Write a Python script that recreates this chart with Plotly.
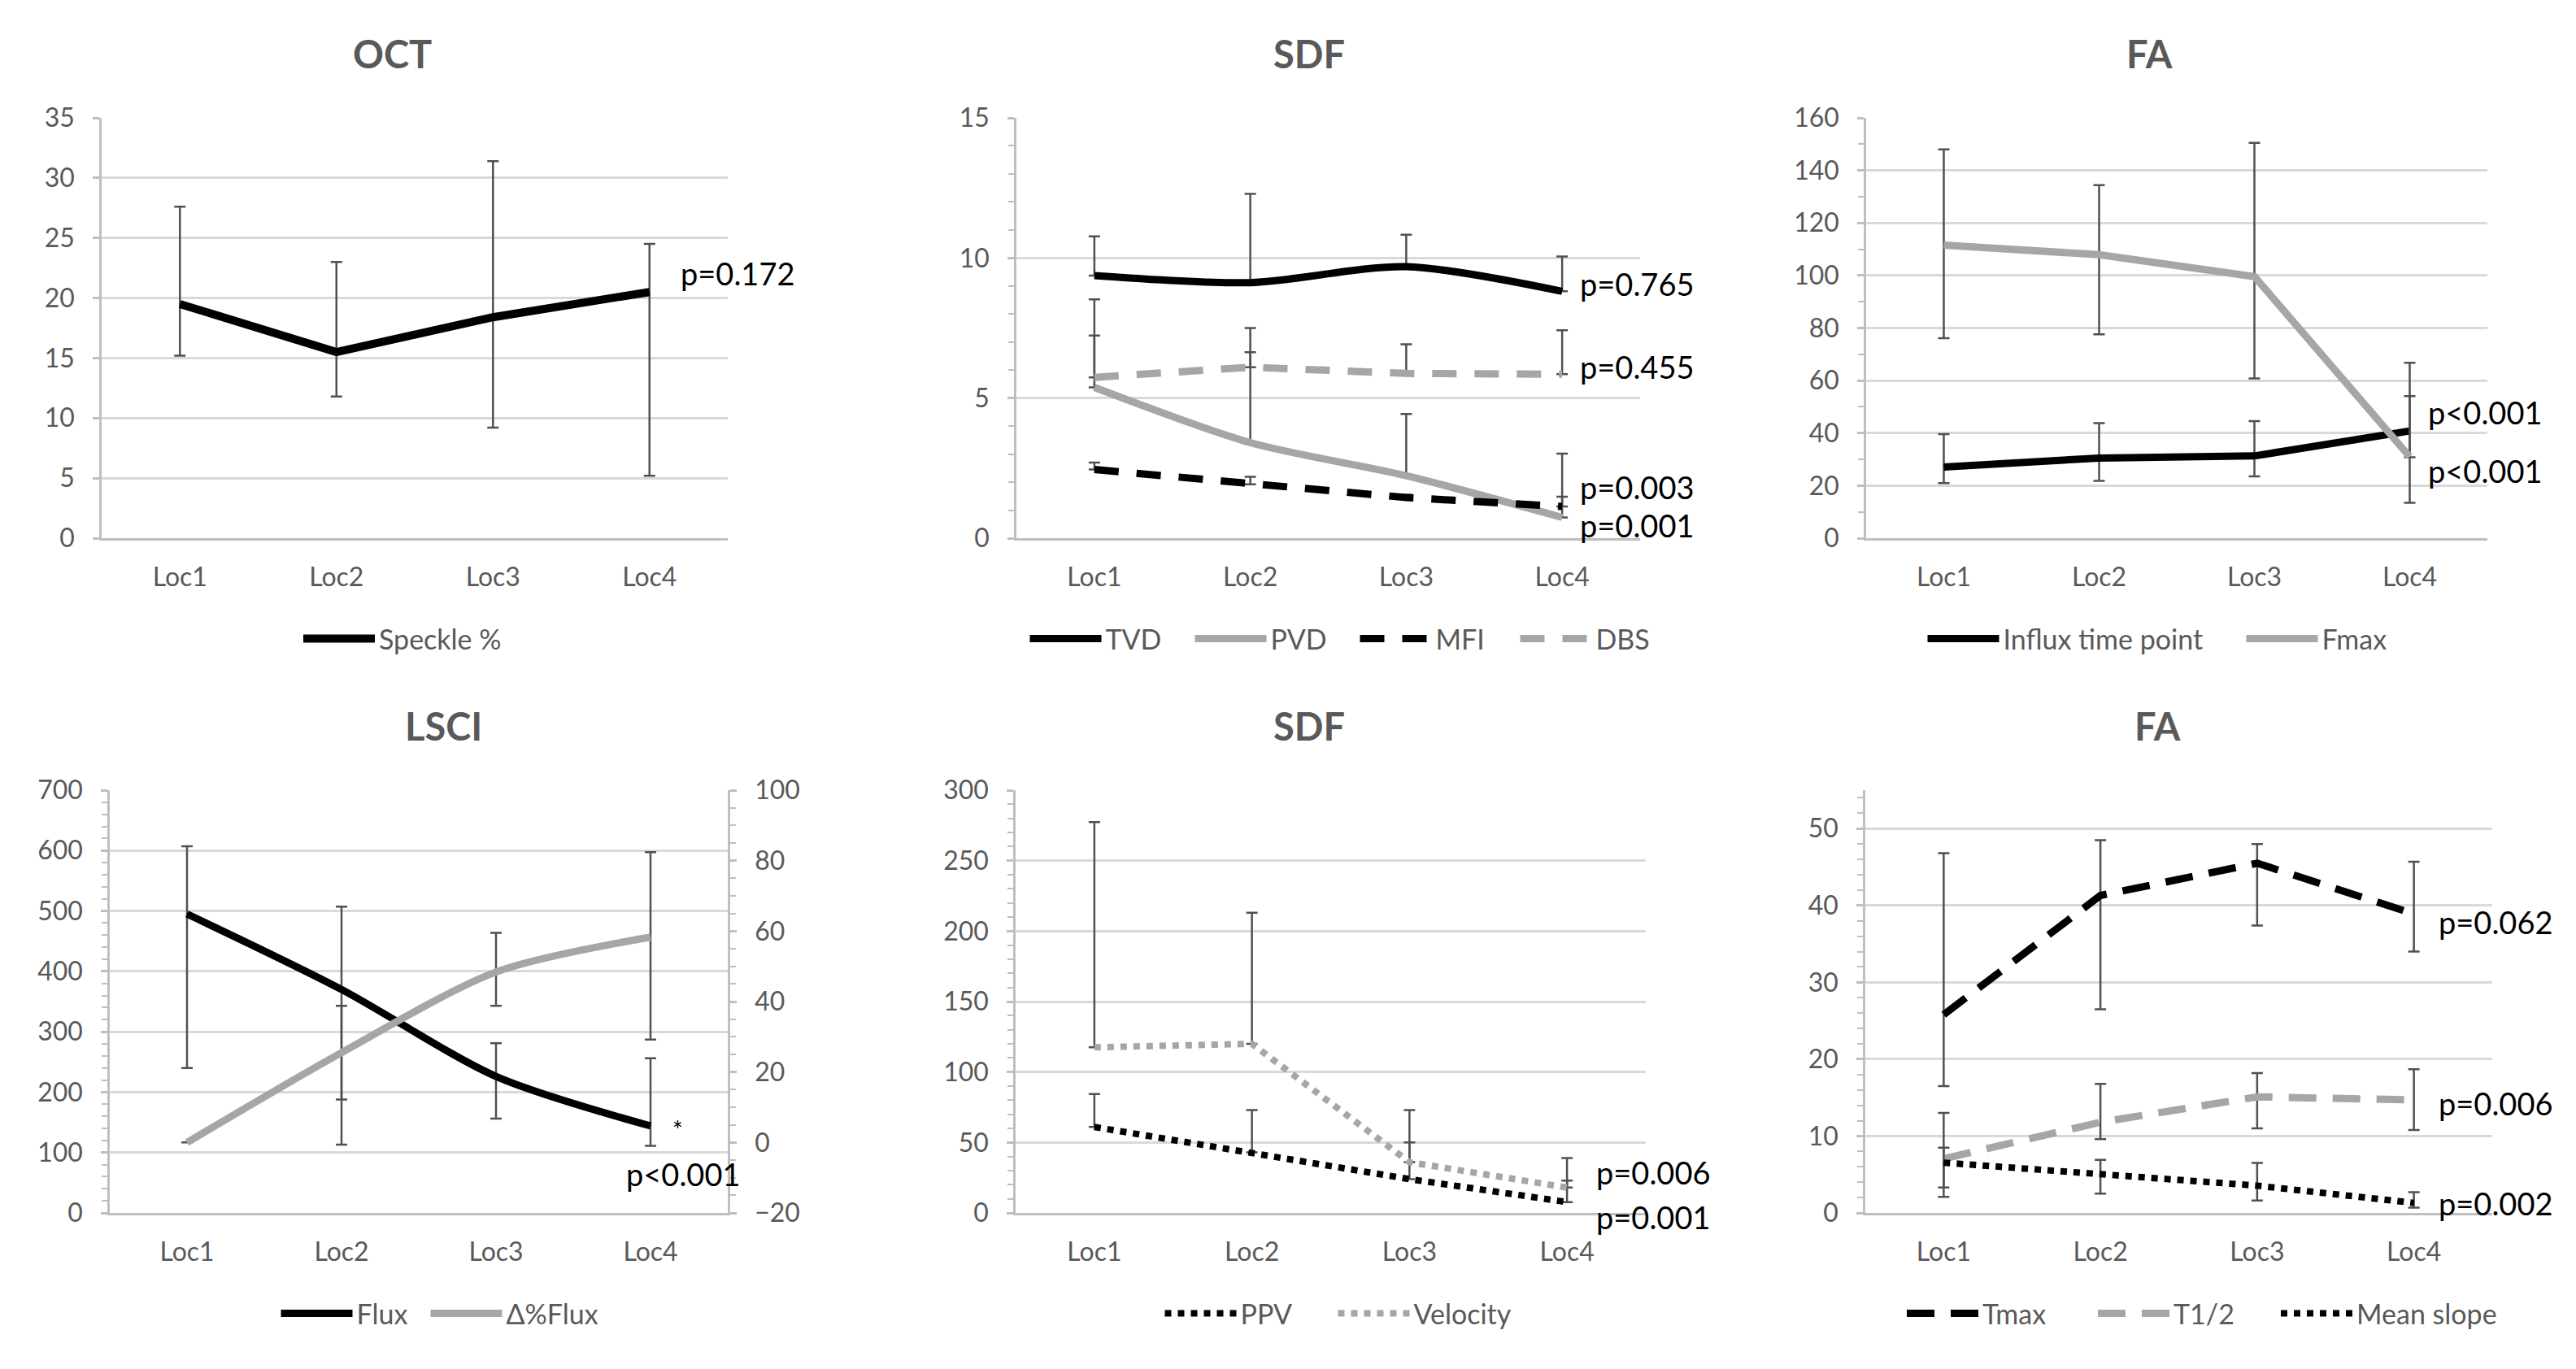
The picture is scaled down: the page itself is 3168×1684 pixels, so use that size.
import plotly.graph_objects as go

W, H = 3168, 1684          # target picture size
OFF = 8                    # page body margin in the browser
FW, FH = W - 2 * OFF, H - 2 * OFF
locs = ["Loc1", "Loc2", "Loc3", "Loc4"]

# ---- OCT ----
speckle = [19.5, 15.5, 18.4, 20.5]
speckle_hi = [27.6, 23.0, 31.4, 24.5]
speckle_lo = [15.2, 11.8, 9.2, 5.2]

# ---- SDF (top) ----
tvd = [9.37, 9.12, 9.69, 8.81]
tvd_hi = [10.77, 12.29, 10.83, 10.05]
pvd = [5.38, 3.41, 2.23, 0.74]
pvd_hi = [8.52, 7.50, 4.43, 3.02]
mfi = [2.45, 1.92, 1.45, 1.13]
mfi_hi = [2.70, 2.19, 1.55, 1.48]
dbs = [5.74, 6.10, 5.88, 5.85]
dbs_hi = [7.23, 6.64, 6.92, 7.42]

# ---- FA (top) ----
influx = [27.1, 30.5, 31.3, 40.8]
influx_hi = [39.6, 43.8, 44.6, 54.1]
influx_lo = [21.0, 21.8, 23.5, 30.8]
fmax = [111.6, 107.9, 99.6, 31.0]
fmax_hi = [148.0, 134.4, 150.5, 66.8]
fmax_lo = [76.1, 77.6, 60.8, 13.5]

# ---- LSCI ----
flux = [495, 370, 226, 144]
flux_hi = [607, 507, 281, 256]
flux_lo = [240, 113, 156, 111]
dflux = [0.0, 25.5, 48.4, 58.3]
dflux_hi = [0.0, 38.8, 59.5, 82.4]
dflux_lo = [0.0, 12.2, 38.8, 29.2]

# ---- SDF (bottom) ----
ppv = [61.0, 43.0, 24.0, 7.7]
ppv_hi = [84.4, 73.0, 50.0, 23.0]
velocity = [117.5, 120.0, 36.0, 18.0]
velocity_hi = [277.4, 213.0, 73.0, 39.0]

# ---- FA (bottom) ----
tmax = [25.8, 41.3, 45.5, 38.9]
tmax_hi = [46.8, 48.5, 48.0, 45.7]
tmax_lo = [16.5, 26.5, 37.4, 34.0]
t12 = [7.05, 11.8, 15.1, 14.7]
t12_hi = [13.0, 16.8, 18.2, 18.7]
t12_lo = [3.3, 9.6, 11.0, 10.8]
slope = [6.54, 4.96, 3.55, 1.3]
slope_hi = [8.5, 6.9, 6.5, 2.7]
slope_lo = [2.1, 2.5, 1.6, 0.7]

BLACK = "#000000"
GRAY = "#a6a6a6"
EBC = "#505050"
TXT = "#595959"
FONT = "Lato"


def err(v, hi, lo=None):
    up = [h - x for h, x in zip(hi, v)]
    if lo is None:
        dn = [0 for _ in v]
    else:
        dn = [x - l for x, l in zip(v, lo)]
    return dict(type="data", symmetric=False, array=up, arrayminus=dn,
                color=EBC, thickness=2.5, width=7)


fig = go.Figure()


def add(y, name, color, dash, xa, ya, legend, e, shape="linear", width=9, lw=None):
    kw = {}
    if lw:
        kw["legendwidth"] = lw
    fig.add_trace(go.Scatter(
        x=locs, y=y, name=name, mode="lines",
        line=dict(color=color, width=width, dash=dash, shape=shape, smoothing=0.8),
        error_y=e, xaxis=xa, yaxis=ya, legend=legend, **kw))


# OCT
add(speckle, "Speckle %", BLACK, "solid", "x", "y", "legend",
    err(speckle, speckle_hi, speckle_lo), width=10)
# SDF top
add(tvd, "TVD", BLACK, "solid", "x2", "y2", "legend2", err(tvd, tvd_hi), "spline", lw=100)
add(pvd, "PVD", GRAY, "solid", "x2", "y2", "legend2", err(pvd, pvd_hi), "spline", lw=100)
add(mfi, "MFI", BLACK, "30px,22px", "x2", "y2", "legend2", err(mfi, mfi_hi), lw=94)
add(dbs, "DBS", GRAY, "30px,22px", "x2", "y2", "legend2", err(dbs, dbs_hi))
# FA top
add(influx, "Influx time point", BLACK, "solid", "x3", "y3", "legend3",
    err(influx, influx_hi, influx_lo), lw=289)
add(fmax, "Fmax", GRAY, "solid", "x3", "y3", "legend3", err(fmax, fmax_hi, fmax_lo))
# LSCI
add(flux, "Flux", BLACK, "solid", "x4", "y4", "legend4",
    err(flux, flux_hi, flux_lo), "spline", lw=81)
add(dflux, "Δ%Flux", GRAY, "solid", "x4", "y7", "legend4",
    err(dflux, dflux_hi, dflux_lo), "spline")
# SDF bottom
add(ppv, "PPV", BLACK, "dot", "x5", "y5", "legend5", err(ppv, ppv_hi), width=8, lw=110)
add(velocity, "Velocity", GRAY, "dot", "x5", "y5", "legend5",
    err(velocity, velocity_hi), width=8)
# FA bottom
add(tmax, "Tmax", BLACK, "34px,20px", "x6", "y6", "legend6",
    err(tmax, tmax_hi, tmax_lo), lw=132)
add(t12, "T1/2", GRAY, "34px,20px", "x6", "y6", "legend6",
    err(t12, t12_hi, t12_lo), lw=122)
add(slope, "Mean slope", BLACK, "dot", "x6", "y6", "legend6",
    err(slope, slope_hi, slope_lo), width=8)


def fx(px):
    return (px - OFF) / FW


def fy(py):
    return 1 - (py - OFF) / FH


def px_x(a, b):
    return [fx(a), fx(b)]


def px_y(top, bottom):
    return [fy(bottom), fy(top)]


AX_LINE = "#bfbfbf"
GRID = "#d9d9d9"
tickfont = dict(family=FONT, size=32, color=TXT)


def xax(dom, anchor):
    return dict(domain=dom, anchor=anchor, type="category", range=[-0.5, 3.5],
                showline=True, linecolor=AX_LINE, linewidth=2.5, ticks="",
                showgrid=False, tickfont=tickfont, ticklabelstandoff=18,
                fixedrange=True)


def yax(dom, anchor, rng, dtick, minor=None, **kw):
    d = dict(domain=dom, anchor=anchor, range=rng, dtick=dtick, tick0=0,
             showgrid=True, gridcolor=GRID, gridwidth=2.5, zeroline=False,
             showline=True, linecolor=AX_LINE, linewidth=2.5, ticks="outside",
             ticklen=8, tickwidth=2.5, tickcolor=AX_LINE, tickfont=tickfont,
             ticklabelstandoff=16, fixedrange=True)
    if minor:
        d["minor"] = dict(dtick=minor, ticks="outside", ticklen=7, tickwidth=2,
                          tickcolor=AX_LINE, showgrid=False)
    d.update(kw)
    return d


top = px_y(145, 662)
bot = px_y(972, 1492)

layout = dict(
    width=FW, height=FH, paper_bgcolor="white", plot_bgcolor="white",
    margin=dict(l=0, r=0, t=0, b=0, autoexpand=False), showlegend=True,
    font=dict(family=FONT, color=TXT),
    xaxis=xax(px_x(125, 895), "y"),
    yaxis=yax(top, "x", [0, 35], 5),
    xaxis2=xax(px_x(1250, 2017), "y2"),
    yaxis2=yax(top, "x2", [0, 15], 5, 1),
    xaxis3=xax(px_x(2295, 3059), "y3"),
    yaxis3=yax(top, "x3", [0, 160], 20, 10),
    xaxis4=xax(px_x(135, 895), "y4"),
    yaxis4=yax(bot, "x4", [0, 700], 100, 20),
    yaxis7=yax(bot, "x4", [-20, 100], 20, 5, overlaying="y4", side="right",
               showgrid=False),
    xaxis5=xax(px_x(1249, 2024), "y5"),
    yaxis5=yax(bot, "x5", [0, 300], 50, 10),
    xaxis6=xax(px_x(2294, 3065), "y6"),
    yaxis6=yax(bot, "x6", [0, 55], 10, 2),
)


def leg(xc, yc):
    return dict(orientation="h", x=fx(xc), y=fy(yc), xanchor="center",
                yanchor="middle", font=dict(family=FONT, size=34, color=TXT),
                bgcolor="rgba(0,0,0,0)", itemwidth=88)


layout["legend"] = leg(495, 786)
layout["legend2"] = leg(1648, 786)
layout["legend3"] = leg(2653, 786)
layout["legend4"] = leg(541, 1616)
layout["legend5"] = leg(1646, 1616)
layout["legend6"] = leg(2708, 1616)

fig.update_layout(**layout)

titles = [("OCT", 482, 66), ("SDF", 1610, 66), ("FA", 2643, 66),
          ("LSCI", 545, 893), ("SDF", 1610, 893), ("FA", 2653, 893)]
for t, xc, yc in titles:
    fig.add_annotation(text=t, x=fx(xc), y=fy(yc), xref="paper", yref="paper",
                       showarrow=False, xanchor="center", yanchor="middle",
                       font=dict(family=FONT, size=47, color=TXT, weight=700))

pfont = dict(family=FONT, size=38, color="#000000")
plabels = [
    ("x", "y", "p=0.172", 22.1, 36, 0),
    ("x2", "y2", "p=0.765", 9.07, 20, 0),
    ("x2", "y2", "p=0.455", 6.12, 20, 0),
    ("x2", "y2", "p=0.003", 1.84, 20, 0),
    ("x2", "y2", "p=0.001", 0.47, 20, 0),
    ("x3", "y3", "p<0.001", 47.9, 20, 0),
    ("x3", "y3", "p<0.001", 25.8, 20, 0),
    ("x5", "y5", "p=0.006", 28.8, 34, 0),
    ("x5", "y5", "p=0.001", 0.0, 34, -5),
    ("x6", "y6", "p=0.062", 37.9, 28, 0),
    ("x6", "y6", "p=0.006", 14.3, 28, 0),
    ("x6", "y6", "p=0.002", 1.3, 28, 0),
]
for xa, ya, txt, yv, sh, ysh in plabels:
    fig.add_annotation(text=txt, x="Loc4", y=yv, xref=xa, yref=ya, showarrow=False,
                       xanchor="left", yanchor="middle", xshift=sh, yshift=ysh,
                       font=pfont)

fig.add_annotation(text="*", x="Loc4", y=139, xref="x4", yref="y4", showarrow=False,
                   xanchor="center", yanchor="middle", xshift=33,
                   font=dict(family=FONT, size=30, color="#000000"))
fig.add_annotation(text="p<0.001", x="Loc4", y=64, xref="x4", yref="y4",
                   showarrow=False, xanchor="center", yanchor="middle", xshift=40,
                   font=pfont)

fig.write_html("out.html")
